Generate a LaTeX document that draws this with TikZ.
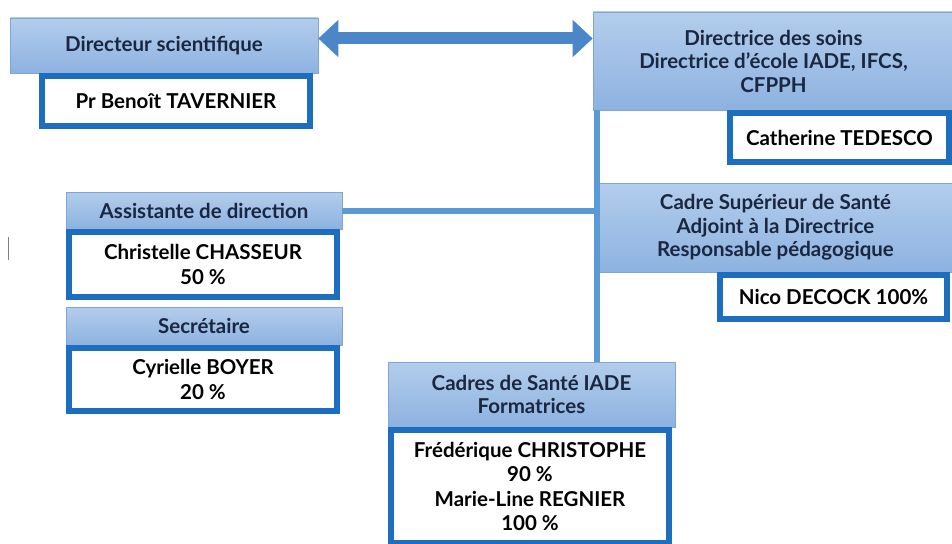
\documentclass[tikz,border=0pt]{standalone}
\usepackage{fontspec}
\setmainfont{Lato}
\usetikzlibrary{arrows.meta}

\definecolor{headtop}{HTML}{B3CDEC}
\definecolor{headbot}{HTML}{8DB2E0}
\definecolor{headline}{HTML}{7EA6D6}
\definecolor{namebar}{HTML}{1E6EC0}
\definecolor{linkblue}{HTML}{5B9BD5}
\definecolor{arrowblue}{HTML}{4A86C8}
\definecolor{titletext}{HTML}{1B2740}

\begin{document}
\begin{tikzpicture}[x=1pt,y=-1pt]
\tikzset{head/.style = {shape=rectangle,draw=headline,line width=0.6pt,top color=headtop,bottom color=headbot,
    text=titletext,align=center,inner sep=0pt,font=\fontsize{20.5}{23.5}\selectfont\bfseries}}
\tikzset{namebox/.style = {shape=rectangle,draw=namebar,line width=6pt,fill=white,
    text=black,align=center,inner sep=0pt,font=\fontsize{20.5}{24.5}\selectfont\bfseries}}
\tikzset{link/.style = {draw=linkblue,line width=6pt}}
\tikzset{twoway/.style = {draw=arrowblue,line width=12pt,
    {Triangle[width=36pt,length=20pt]}-{Triangle[width=36pt,length=20pt]}}}
\useasboundingbox (0,0) rectangle (952,543);
% left column
\node[head,minimum width=308pt,minimum height=55pt](dsci) at (164,45.5) {Directeur scientifique};
\node[namebox,minimum width=268pt,minimum height=50pt](tavernier) at (176,101) {Pr Benoît TAVERNIER};
\node[head,minimum width=276pt,minimum height=37pt](assist) at (204,210.5) {Assistante de direction};
\node[namebox,minimum width=268pt,minimum height=65pt](chasseur) at (203,264.5) {Christelle CHASSEUR\\50 \%};
\node[head,minimum width=276pt,minimum height=38pt](secr) at (204,326) {Secrétaire};
\node[namebox,minimum width=268pt,minimum height=63pt](boyer) at (203,379.5) {Cyrielle BOYER\\20 \%};
% right column
\node[head,minimum width=361pt,minimum height=98pt](dsoins) at (773.5,61) {Directrice des soins\\Directrice d’école IADE, IFCS,\\CFPPH};
\node[namebox,minimum width=219pt,minimum height=49pt](tedesco) at (839.5,137.5) {Catherine TEDESCO};
\node[head,minimum width=357pt,minimum height=89pt](csup) at (775.5,227.5) {Cadre Supérieur de Santé\\Adjoint à la Directrice\\Responsable pédagogique};
\node[namebox,minimum width=227pt,minimum height=44pt](decock) at (833.5,297) {Nico DECOCK 100\%};
% bottom
\node[head,minimum width=287pt,minimum height=65pt](cadres) at (531.5,394.5) {Cadres de Santé IADE\\Formatrices};
\node[namebox,minimum width=278pt,minimum height=113pt](formatrices) at (530,486.5) {Frédérique CHRISTOPHE\\90 \%\\Marie-Line REGNIER\\100 \%};
% links
\coordinate (spine) at (597,110);
\draw[link] (spine) -- (spine |- cadres.north);
\draw[link] (assist.east) -- (assist.east -| spine);
\draw[twoway] ([yshift=7pt]dsci.east) -- ([yshift=7pt]dsci.east -| dsoins.west);
\draw[gray,line width=1pt] (8,237) -- (8,260);
\end{tikzpicture}
\end{document}
